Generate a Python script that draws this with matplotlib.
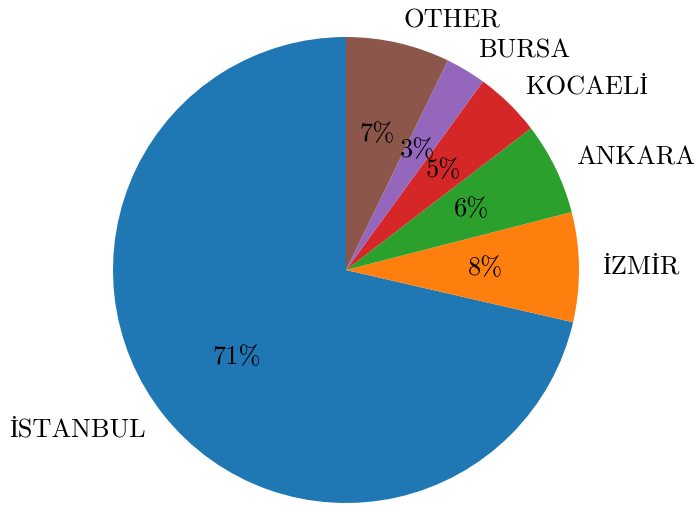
import matplotlib
matplotlib.use('Agg')
import matplotlib.pyplot as plt

# share of each city
cities = ['İSTANBUL', 'İZMİR', 'ANKARA', 'KOCAELİ', 'BURSA', 'OTHER']
shares = [71.4, 7.6, 6.4, 4.6, 2.8, 7.2]

plt.rcParams['font.family'] = ['cmr10', 'Liberation Serif']
plt.rcParams['mathtext.fontset'] = 'cm'
plt.rcParams['axes.formatter.use_mathtext'] = True

W, H = 695, 507
fig = plt.figure(figsize=(W / 100, H / 100), dpi=100)
ax = fig.add_axes([0, 0, 1, 1])

ax.pie(shares, labels=cities, autopct='%1.0f%%', startangle=90,
       textprops={'fontsize': 19})

# pie radius 233 px, centre at (346, 237) from bottom-left
r = 233.0
cx, cy = 346.0, 237.0
ax.set_xlim(-cx / r, (W - cx) / r)
ax.set_ylim(-cy / r, (H - cy) / r)
ax.set_aspect('auto')

fig.savefig('out.png', dpi=100)
